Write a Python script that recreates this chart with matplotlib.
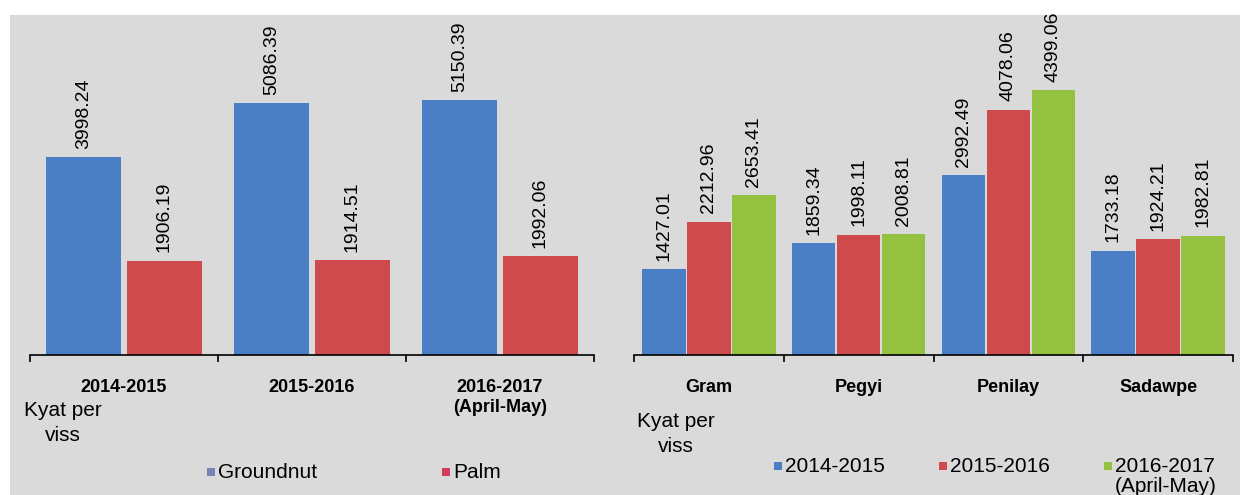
import matplotlib.pyplot as plt
from matplotlib.patches import Rectangle
import numpy as np

# left chart: Groundnut vs Palm oil
anos = ['2014-2015', '2015-2016', '2016-2017\n(April-May)']
groundnut = [3998.24, 5086.39, 5150.39]
palm = [1906.19, 1914.51, 1992.06]

# right chart: pulses
graos = ['Gram', 'Pegyi', 'Penilay', 'Sadawpe']
v2014 = [1427.01, 1859.34, 2992.49, 1733.18]
v2015 = [2212.96, 1998.11, 4078.06, 1924.21]
v2016 = [2653.41, 2008.81, 4399.06, 1982.81]
series_nomes = ['2014-2015', '2015-2016', '2016-2017\n(April-May)']

azul = '#4a7fc6'
vermelho = '#cf4a4c'
verde = '#94c13f'
fundo = '#dadada'

plt.rcParams['font.family'] = ['Liberation Sans', 'DejaVu Sans']

fig = plt.figure(figsize=(12.4, 4.95), dpi=100)
fig.patch.set_facecolor('white')
fig.patches.append(Rectangle((10/1240, 0), 1, 480/495, transform=fig.transFigure,
                             facecolor=fundo, edgecolor='none', zorder=-10))


def estiliza(ax, n, ymax):
    ax.set_facecolor('none')
    ax.set_ylim(0, ymax)
    ax.set_xlim(-0.5, n - 0.5)
    for s in ['top', 'right', 'left']:
        ax.spines[s].set_visible(False)
    ax.spines['bottom'].set_color('black')
    ax.spines['bottom'].set_linewidth(1.2)
    ax.set_yticks([])
    ax.set_xticks(np.arange(-0.5, n, 1.0), minor=False)
    ax.set_xticklabels([])
    ax.tick_params(axis='x', which='major', length=5, width=1.2, color='black', direction='out')


def rotulos(ax, x, v):
    for xi, vi in zip(x, v):
        ax.annotate('%.2f' % vi, (xi, vi), xytext=(0, 6), textcoords='offset points',
                    rotation=90, ha='center', va='bottom', fontsize=14, color='black')


# ---- left panel
ax1 = fig.add_axes([30/1240, 140/495, 564/1240, 340/495])
estiliza(ax1, len(anos), 6870)
x = np.arange(len(anos))
ax1.bar(x - 0.215, groundnut, 0.40, color=azul)
ax1.bar(x + 0.215, palm, 0.40, color=vermelho)
rotulos(ax1, x - 0.215, groundnut)
rotulos(ax1, x + 0.215, palm)
for xi, nome in zip(x, anos):
    ax1.text(xi, -0.072, nome, transform=ax1.get_xaxis_transform(), ha='center', va='top',
             fontsize=13, fontweight='bold', linespacing=1.2)

fig.text(63/1240, 1 - 423/495, 'Kyat per\nviss', ha='center', va='center', fontsize=15,
         linespacing=1.35, multialignment='center')

# ---- right panel
ax2 = fig.add_axes([634/1240, 140/495, 599/1240, 340/495])
estiliza(ax2, len(graos), 5650)
x2 = np.arange(len(graos))
larg = 0.29
for off, vals, cor in zip([-0.3, 0, 0.3], [v2014, v2015, v2016], [azul, vermelho, verde]):
    ax2.bar(x2 + off, vals, larg, color=cor)
    rotulos(ax2, x2 + off, vals)
for xi, nome in zip(x2, graos):
    ax2.text(xi, -0.072, nome, transform=ax2.get_xaxis_transform(), ha='center', va='top',
             fontsize=13, fontweight='bold')

fig.text(676/1240, 1 - 434/495, 'Kyat per\nviss', ha='center', va='center', fontsize=15,
         linespacing=1.35, multialignment='center')

# ---- legends (drawn by hand to keep spacing)
def item(xpx, ypx, cor, txt):
    fig.patches.append(Rectangle(((xpx - 4)/1240, 1 - (ypx + 4)/495), 8/1240, 8/495,
                                 transform=fig.transFigure, facecolor=cor, edgecolor='none'))
    fig.text((xpx + 7)/1240, 1 - ypx/495, txt, ha='left', va='center', fontsize=15)

item(211, 472, '#7a80b8', 'Groundnut')
item(446, 472, '#cf3f5c', 'Palm')
item(778, 466, azul, '2014-2015')
item(943, 466, vermelho, '2015-2016')
item(1108, 466, verde, '2016-2017')
fig.text((1108 + 7)/1240, 1 - 486/495, '(April-May)', ha='left', va='center', fontsize=15)

fig.savefig('out.png', dpi=100)
